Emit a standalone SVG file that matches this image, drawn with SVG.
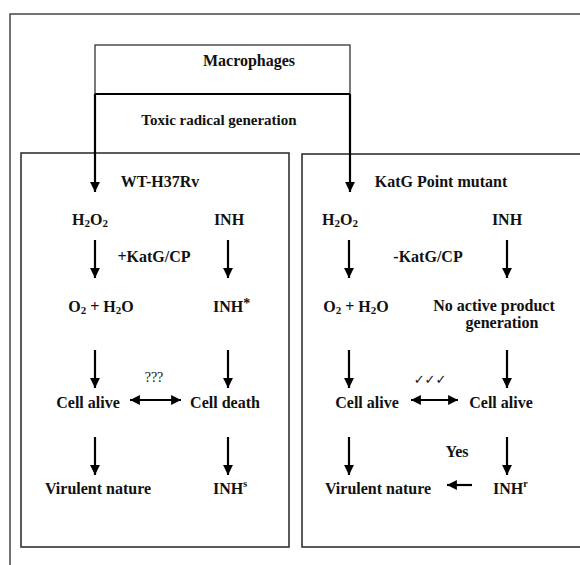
<svg xmlns="http://www.w3.org/2000/svg" width="580" height="565" viewBox="0 0 580 565">
<style>
text{font-family:"Liberation Serif","Times New Roman",serif;font-weight:bold;font-size:16px;fill:#111;text-anchor:middle}
.st{text-anchor:start}
.sub{font-size:11px}
.sup{font-size:10px}
.frame{fill:none;stroke:#444;stroke-width:1.5}
.panel{fill:none;stroke:#333;stroke-width:1.6}
.thin{fill:none;stroke:#222;stroke-width:1.2}
.arr{stroke:#000;stroke-width:2.2;fill:none}
.head{marker-end:url(#ah)}
.both{marker-end:url(#ah);marker-start:url(#ahs)}
</style>
<defs>
<marker id="ah" viewBox="0 0 10 10" refX="10" refY="5" markerWidth="4.5" markerHeight="4.5" orient="auto" markerUnits="strokeWidth">
<path d="M0,0 L10,5 L0,10 z" fill="#000"/>
</marker>
<marker id="ahs" viewBox="0 0 10 10" refX="0" refY="5" markerWidth="4.5" markerHeight="4.5" orient="auto" markerUnits="strokeWidth">
<path d="M10,0 L0,5 L10,10 z" fill="#000"/>
</marker>
</defs>
<rect width="580" height="565" fill="#fff"/>
<path class="frame" d="M10,565 V14 H585"/>

<g id="macrophages">
<rect class="thin" x="95" y="45" width="255" height="49"/>
<text x="249" y="66">Macrophages</text>
</g>
<g id="toxic">
<text x="219" y="125" style="font-size:15px">Toxic radical generation</text>
</g>

<g id="panel-wt">
<rect class="panel" x="21" y="153" width="268" height="394"/>
<text x="160" y="187">WT-H37Rv</text>
</g>
<g id="panel-mut">
<rect class="panel" x="302" y="154" width="285" height="393"/>
<text x="441" y="187">KatG Point mutant</text>
</g>

<g id="wt-h2o2"><text x="90" y="225">H<tspan class="sub" dy="2">2</tspan><tspan dy="-2">O</tspan><tspan class="sub" dy="2">2</tspan></text></g>
<g id="wt-inh"><text x="229" y="225">INH</text></g>
<g id="wt-katg"><text x="154" y="262">+KatG/CP</text></g>
<g id="wt-o2h2o"><text x="101" y="312">O<tspan class="sub" dy="2">2</tspan><tspan dy="-2"> + H</tspan><tspan class="sub" dy="2">2</tspan><tspan dy="-2">O</tspan></text></g>
<g id="wt-inhstar"><text class="st" x="213" y="312">INH<tspan dy="-4" style="font-size:14px">*</tspan></text></g>
<g id="wt-q"><text x="154" y="382" style="font-weight:normal;font-size:14px">???</text></g>
<g id="wt-alive"><text x="88" y="408">Cell alive</text></g>
<g id="wt-death"><text x="225" y="408">Cell death</text></g>
<g id="wt-virulent"><text x="98" y="494">Virulent nature</text></g>
<g id="wt-inhs"><text class="st" x="213" y="494">INH<tspan class="sup" dy="-7">s</tspan></text></g>

<g id="mut-h2o2"><text x="340" y="225">H<tspan class="sub" dy="2">2</tspan><tspan dy="-2">O</tspan><tspan class="sub" dy="2">2</tspan></text></g>
<g id="mut-inh"><text x="507" y="225">INH</text></g>
<g id="mut-katg"><text x="428" y="262">-KatG/CP</text></g>
<g id="mut-o2h2o"><text x="356" y="312">O<tspan class="sub" dy="2">2</tspan><tspan dy="-2"> + H</tspan><tspan class="sub" dy="2">2</tspan><tspan dy="-2">O</tspan></text></g>
<g id="mut-noactive"><text x="494" y="311">No active product</text><text x="502" y="328">generation</text></g>
<g id="mut-checks"><text x="430" y="384" style="font-family:'DejaVu Sans',sans-serif;font-weight:bold;font-size:13px">✓✓✓</text></g>
<g id="mut-alive1"><text x="367" y="408">Cell alive</text></g>
<g id="mut-alive2"><text x="501" y="408">Cell alive</text></g>
<g id="mut-yes"><text x="457" y="457">Yes</text></g>
<g id="mut-virulent"><text x="378" y="494">Virulent nature</text></g>
<g id="mut-inhr"><text class="st" x="493" y="494">INH<tspan class="sup" dy="-7">r</tspan></text></g>

<g id="connectors">
<path class="arr" d="M95,94 H350"/>
<path class="arr head" d="M95,94 V192"/>
<path class="arr head" d="M350,94 V192"/>
<path class="arr head" d="M95,240 V278"/>
<path class="arr head" d="M228,240 V278"/>
<path class="arr head" d="M95,350 V388"/>
<path class="arr head" d="M228,350 V388"/>
<path class="arr both" d="M130,400 H181"/>
<path class="arr head" d="M95,437 V475"/>
<path class="arr head" d="M228,437 V475"/>
<path class="arr head" d="M349,240 V278"/>
<path class="arr head" d="M507,240 V278"/>
<path class="arr head" d="M349,350 V388"/>
<path class="arr head" d="M507,350 V388"/>
<path class="arr both" d="M411,400 H458"/>
<path class="arr head" d="M349,437 V475"/>
<path class="arr head" d="M507,437 V475"/>
<path class="arr head" d="M472,485 H447"/>
</g>
</svg>
